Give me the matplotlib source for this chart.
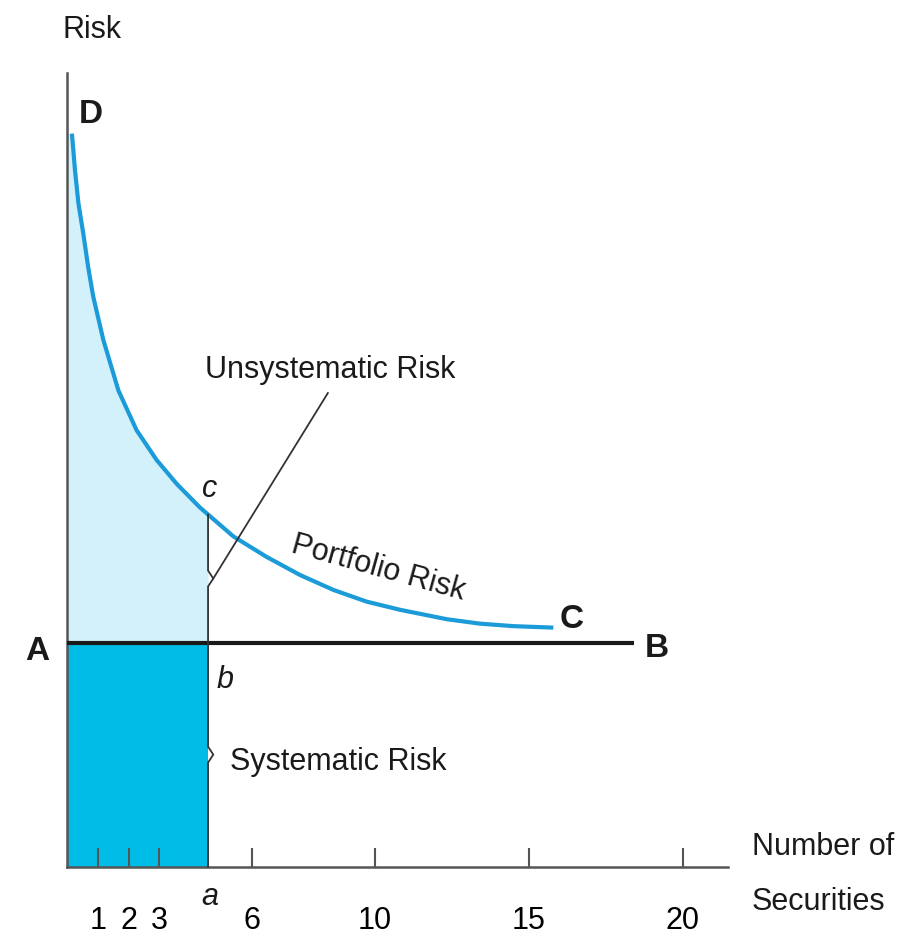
import matplotlib
matplotlib.use("Agg")
import matplotlib.pyplot as plt

# --- values -------------------------------------------------------------------------
# portfolio risk curve (D -> C), x = number of securities, y = risk (arbitrary units)
CURVE_X = [0.16, 0.26, 0.37, 0.53, 0.69, 0.85, 1.18, 1.67, 2.26, 2.91, 3.56, 4.32,
           5.40, 6.47, 7.57, 8.65, 9.73, 10.81, 12.33, 13.41, 14.49, 15.79]
CURVE_Y = [73.9, 70.2, 66.9, 63.8, 60.4, 57.5, 53.1, 48.0, 44.0, 41.0, 38.6, 36.2,
           33.3, 31.25, 29.4, 27.9, 26.72, 25.9, 24.95, 24.5, 24.25, 24.1]

SYSTEMATIC = 22.6      # level of line A-B
A_POINT = 4.58         # "a" on the x axis
C_LEVEL = 35.5         # curve height at a (point c)
B_END = 18.4           # right end of line A-B
X_AXIS_END = 21.46
Y_AXIS_TOP = 80.0

TICKS = [1, 2, 3, 6, 10, 15, 20]
TICK_LABELS = ["1", "2", "3", "6", "10", "15", "20"]

# colours
LIGHT = "#d3f1fb"
DARK = "#00bde8"
CURVE = "#1b9bd7"
AXIS = "#555555"
INK = "#1a1a1a"

FONT = ["Liberation Sans", "DejaVu Sans"]
FS = 22

plt.rcParams["font.family"] = FONT

fig = plt.figure(figsize=(9.18, 9.41), dpi=100)
ax = fig.add_axes([0, 0, 1, 1])
ax.set_xlim(-2.175, 27.63)
ax.set_ylim(-7.49, 87.37)
ax.patch.set_alpha(0)

# fills
fill_x = [0.0] + [x for x in CURVE_X if x < A_POINT] + [A_POINT]
fill_y = [CURVE_Y[0]] + [y for x, y in zip(CURVE_X, CURVE_Y) if x < A_POINT] + [C_LEVEL]
ax.fill_between(fill_x, SYSTEMATIC, fill_y, color=LIGHT, lw=0, zorder=1)
ax.fill_between([0, A_POINT], 0, SYSTEMATIC, color=DARK, lw=0, zorder=1)

# curve and A-B line
ax.plot(CURVE_X, CURVE_Y, color=CURVE, lw=3, solid_capstyle="butt",
        solid_joinstyle="round", zorder=3)
ax.hlines(SYSTEMATIC, 0, B_END, color=INK, lw=3, zorder=4)

# braces on the vertical at a
nub_w, nub_h = 0.17, 0.8
up_mid = (SYSTEMATIC + C_LEVEL) / 2
lo_mid = SYSTEMATIC / 2
bx = [A_POINT, A_POINT, A_POINT + nub_w, A_POINT, A_POINT,
      A_POINT, A_POINT + nub_w, A_POINT, A_POINT]
by = [C_LEVEL, up_mid + nub_h, up_mid, up_mid - nub_h, SYSTEMATIC,
      lo_mid + nub_h, lo_mid, lo_mid - nub_h, 0]
ax.plot(bx, by, color="#333333", lw=1.3, zorder=5)
# leader line to "Unsystematic Risk"
ax.plot([A_POINT + nub_w, 8.47], [up_mid, 47.75], color="#333333", lw=1.3, zorder=5)

# axes
for side in ("top", "right"):
    ax.spines[side].set_visible(False)
ax.spines["left"].set_position(("data", 0))
ax.spines["left"].set_bounds(0, Y_AXIS_TOP)
ax.spines["bottom"].set_position(("data", 0))
ax.spines["bottom"].set_bounds(0, X_AXIS_END)
for side in ("left", "bottom"):
    ax.spines[side].set_color(AXIS)
    ax.spines[side].set_linewidth(1.8)
    ax.spines[side].set_zorder(2)
ax.set_yticks([])
ax.set_xticks(TICKS)
ax.set_xticklabels(TICK_LABELS, fontsize=FS)
ax.tick_params(axis="x", direction="in", length=14, width=1.5, color=AXIS, pad=28)

# labels
bold = dict(fontsize=FS + 2, fontweight="bold", ha="center", va="baseline", color=INK)
ax.text(0.78, 74.97, "D", **bold)
ax.text(-0.97, 20.84, "A", **bold)
ax.text(19.16, 21.16, "B", **bold)
ax.text(16.40, 24.06, "C", **bold)

ital = dict(fontsize=FS, fontstyle="italic", ha="center", va="baseline", color=INK)
ax.text(5.13, 18.0, "b", **ital)
ax.text(4.64, 37.27, "c", **ital)
ax.text(4.64, -3.86, "a", **ital)

plain = dict(fontsize=FS, va="baseline", color=INK)
ax.text(0.81, 83.53, "Risk", ha="center", **plain)
ax.text(8.54, 49.26, "Unsystematic Risk", ha="center", **plain)
ax.text(8.8, 9.77, "Systematic Risk", ha="center", **plain)
ax.text(22.24, 1.18, "Number of", ha="left", **plain)
ax.text(22.24, -4.36, "Securities", ha="left", **plain)
ax.text(10.1, 30.1, "Portfolio Risk", fontsize=FS, color=INK, ha="center", va="center",
        rotation=-15.5, rotation_mode="anchor")

fig.savefig("out.png", dpi=100)
